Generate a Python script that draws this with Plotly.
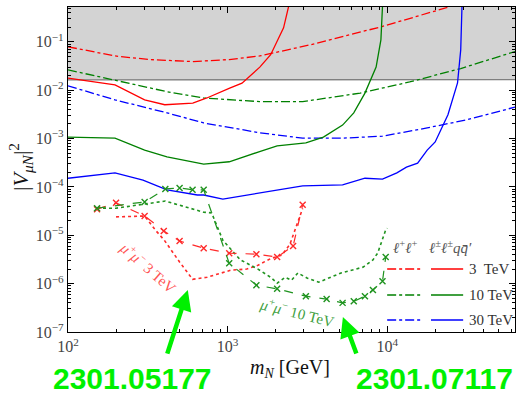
import plotly.graph_objects as go

# ---------------- data ----------------
excl_x = [100, 63096]
excl_y = [0.0163, 0.0165]

# 3 TeV
r_qq_x = [100, 197, 302, 404, 605, 741, 1030, 1230, 1590, 1860, 2240, 2500]
r_qq_y = [0.0178, 0.0129, 0.0063, 0.0050, 0.0054, 0.0069, 0.011, 0.014, 0.030, 0.054, 0.195, 0.9]
r_ll_x = [100, 197, 324, 603, 1023, 1585, 3311, 9120, 24547, 30000]
r_ll_y = [0.079, 0.051, 0.043, 0.039, 0.043, 0.051, 0.087, 0.204, 0.53, 0.7]

# 10 TeV
g_qq_x = [100, 197, 302, 417, 708, 1023, 1585, 2042, 3090, 3981, 5248, 6166, 7244, 8511, 9120, 9333, 9400]
g_qq_y = [1.07e-3, 1.02e-3, 5.75e-4, 4.17e-4, 2.95e-4, 3.31e-4, 5.37e-4, 7.08e-4, 8.13e-4,
          1.07e-3, 1.9e-3, 3.39e-3, 8.7e-3, 0.030, 0.11, 0.46, 0.9]
g_ll_x = [100, 197, 417, 708, 1585, 2951, 6761, 13804, 28840, 63096]
g_ll_y = [0.0263, 0.0162, 0.0093, 0.0069, 0.0058, 0.0058, 0.0087, 0.0148, 0.028, 0.063]

# 30 TeV
b_qq_x = [100, 197, 295, 417, 646, 708, 933, 1585, 2951, 5248, 7244, 9333, 11482, 13183, 15488,
          17783, 19953, 23988, 27542, 28840, 29500]
b_qq_y = [1.51e-4, 1.95e-4, 1.38e-4, 8.7e-5, 6.8e-5, 6.8e-5, 5.6e-5, 7.4e-5, 1.05e-4, 1.1e-4, 1.51e-4,
          1.45e-4, 1.95e-4, 2.57e-4, 3.09e-4, 5.75e-4, 8.5e-4, 3.1e-3, 0.0141, 0.068, 0.9]
b_ll_x = [100, 197, 417, 708, 1585, 2951, 5248, 9333, 17783, 31623, 63096]
b_ll_y = [0.0123, 0.0063, 0.0034, 0.0021, 0.00132, 0.00102, 0.00102, 0.00112, 0.00166, 0.00245, 0.00447]

# mu+ mu- 3 TeV (2301.05177)
mm3_dash_x = [152, 200, 302, 398, 500, 708, 1023, 1514, 2042, 2570, 2951]
mm3_dash_y = [3.47e-5, 4.68e-5, 2.51e-5, 1.23e-5, 7.6e-6, 5.4e-6, 4.27e-6, 4.07e-6, 3.55e-6, 6.0e-6, 4.27e-5]
mm3_dot_x = [200, 302, 355, 400, 500, 603, 741, 1047, 1318, 1549, 1862, 2188, 2455, 2754, 2951]
mm3_dot_y = [2.4e-5, 2.5e-5, 1.25e-5, 8.0e-6, 2.8e-6, 1.23e-6, 1.35e-6, 1.9e-6, 2.0e-6, 2.4e-6, 3.3e-6,
             3.9e-6, 6.5e-6, 1.9e-5, 3.6e-5]

# mu+ mu- 10 TeV (2301.07117)
mm10_dash_x = [152, 302, 407, 500, 603, 708, 1023, 1514, 2042, 3090, 4169, 5248, 6166, 7244, 8128, 9333, 9772]
mm10_dash_y = [3.63e-5, 4.9e-5, 9.1e-5, 9.5e-5, 8.7e-5, 8.7e-5, 2.63e-6, 9.3e-7, 7.8e-7, 5.5e-7, 4.8e-7,
               4.0e-7, 4.3e-7, 5.5e-7, 7.4e-7, 1.12e-6, 3.55e-6]
mm10_dot_x = [152, 200, 407, 708, 794, 933, 1202, 1549, 1862, 2042, 2291, 2512, 2754, 3162, 3715, 5129,
              7079, 8128, 8710, 9333, 9772, 10000]
mm10_dot_y = [3.63e-5, 3.63e-5, 5.1e-5, 3.0e-5, 2.9e-5, 7.9e-6, 3.1e-6, 2.0e-6, 1.35e-6, 1.02e-6, 1.35e-6,
              1.17e-6, 1.66e-6, 1.29e-6, 1.07e-6, 1.66e-6, 2.2e-6, 3.1e-6, 4.3e-6, 7.9e-6, 1.29e-5, 1.4e-5]

x_ticks = [100, 1000, 10000]
x_ticktext = ["10<sup>2</sup>", "10<sup>3</sup>", "10<sup>4</sup>"]
y_ticks = [1e-7, 1e-6, 1e-5, 1e-4, 1e-3, 1e-2, 1e-1]
y_ticktext = ["10<sup>−7</sup>", "10<sup>−6</sup>", "10<sup>−5</sup>", "10<sup>−4</sup>",
              "10<sup>−3</sup>", "10<sup>−2</sup>", "10<sup>−1</sup>"]

legend_labels = ["3  TeV", "10 TeV", "30 TeV"]
legend_colors = ["#ff0000", "#008000", "#0000ff"]

# ---------------- figure ----------------
RED, GREEN, BLUE = "#ff0000", "#008000", "#0000ff"
LRED, LGREEN = "#ff2a2a", "#1f931f"
SERIF = "Liberation Serif"

fig = go.Figure()
fig.add_trace(go.Scatter(x=excl_x + excl_x[::-1], y=excl_y + [1.0, 1.0], fill="toself",
                         fillcolor="#d3d3d3", line=dict(width=0), mode="lines", hoverinfo="skip"))
fig.add_trace(go.Scatter(x=excl_x, y=excl_y, mode="lines", line=dict(color="#7f7f7f", width=1.4)))

def line(x, y, color, dash="solid", width=1.3):
    fig.add_trace(go.Scatter(x=x, y=y, mode="lines", line=dict(color=color, dash=dash, width=width)))

def mline(x, y, color):
    fig.add_trace(go.Scatter(x=x, y=y, mode="lines+markers",
                             line=dict(color=color, dash="dash", width=1.2),
                             marker=dict(symbol="x-thin", size=6, line=dict(width=1.4, color=color))))

line(r_ll_x, r_ll_y, RED, "dashdot")
line(g_ll_x, g_ll_y, GREEN, "dashdot")
line(b_ll_x, b_ll_y, BLUE, "dashdot")
line(r_qq_x, r_qq_y, RED)
line(g_qq_x, g_qq_y, GREEN)
line(b_qq_x, b_qq_y, BLUE)

line(mm3_dot_x, mm3_dot_y, LRED, "dot", 1.6)
line(mm10_dot_x, mm10_dot_y, LGREEN, "dot", 1.6)
mline(mm3_dash_x, mm3_dash_y, LRED)
mline(mm10_dash_x, mm10_dash_y, LGREEN)

minor_x = [m * d for d in (100, 1000, 10000) for m in range(2, 10) if m * d <= 63096]
minor_y = [m * d for d in (1e-7, 1e-6, 1e-5, 1e-4, 1e-3, 1e-2, 1e-1) for m in range(2, 10) if m * d <= 0.52]

axis_common = dict(type="log", showgrid=False, zeroline=False, showline=True, linecolor="black",
                   linewidth=1.2, mirror="allticks", ticks="inside", ticklen=6, tickcolor="black",
                   tickwidth=1, tickmode="array", automargin=False,
                   tickfont=dict(family=SERIF, size=16, color="#444444"))

fig.update_xaxes(range=[2, 4.8], tickvals=x_ticks, ticktext=x_ticktext,
                 minor=dict(tickmode="array", tickvals=minor_x, ticks="inside", ticklen=3,
                            tickcolor="black", showgrid=False), **axis_common)
fig.update_yaxes(range=[-7, -0.28], tickvals=y_ticks, ticktext=y_ticktext,
                 minor=dict(tickmode="array", tickvals=minor_y, ticks="inside", ticklen=3,
                            tickcolor="black", showgrid=False), **axis_common)

shapes = []
annotations = []
rows_y = [0.194, 0.114, 0.037]
for lab, col, yy in zip(legend_labels, legend_colors, rows_y):
    shapes.append(dict(type="line", xref="paper", yref="paper", x0=0.714, x1=0.790, y0=yy, y1=yy,
                       line=dict(color=col, width=1.4, dash="dashdot")))
    shapes.append(dict(type="line", xref="paper", yref="paper", x0=0.812, x1=0.884, y0=yy, y1=yy,
                       line=dict(color=col, width=1.4)))
    annotations.append(dict(text=lab, xref="paper", yref="paper", x=0.893, y=yy, xanchor="left",
                            yanchor="middle", showarrow=False,
                            font=dict(family=SERIF, size=15, color="#333333")))

C = dict(xanchor="center", yanchor="middle", showarrow=False)
annotations += [
    dict(text="<i>ℓ</i><sup>+</sup><i>ℓ</i><sup>+</sup>", xref="paper", yref="paper", x=0.754, y=0.262,
         font=dict(family=SERIF, size=15, color="#555555"), **C),
    dict(text="<i>ℓ</i><sup>±</sup><i>ℓ</i><sup>±</sup><i>qq̄′</i>", xref="paper", yref="paper",
         x=0.856, y=0.262, font=dict(family=SERIF, size=15, color="#555555"), **C),
    dict(text="<i>μ</i><sup>+</sup><i>μ</i><sup>−</sup> 3 TeV", x=2.505, y=-5.66, xref="x", yref="y",
         textangle=41, font=dict(family=SERIF, size=15, color="#ff5555"), **C),
    dict(text="<i>μ</i><sup>+</sup><i>μ</i><sup>−</sup> 10 TeV", x=3.436, y=-6.59, xref="x", yref="y",
         textangle=14, font=dict(family=SERIF, size=15, color="#3f9f3f"), **C),
    dict(text="<i>m</i><sub><i>N</i></sub> [GeV]", xref="paper", yref="paper", x=0.497, y=-0.111,
         font=dict(family=SERIF, size=20, color="#111111"), **C),
    dict(text="|<i>V</i><sub><i>μN</i></sub>|<sup>2</sup>", xref="paper", yref="paper", x=-0.105, y=0.508,
         textangle=-90, font=dict(family=SERIF, size=22, color="#111111"), **C),
    dict(text="", xref="paper", yref="paper", x=0.268, y=0.129, ax=-21, ay=65, showarrow=True,
         arrowhead=2, arrowsize=0.9, arrowwidth=4.5, arrowcolor="#00f000"),
    dict(text="", xref="paper", yref="paper", x=0.615, y=0.046, ax=14, ay=38, showarrow=True,
         arrowhead=2, arrowsize=0.9, arrowwidth=4.5, arrowcolor="#00f000"),
    dict(text="<b>2301.05177</b>", xref="paper", yref="paper", x=0.145, y=-0.143,
         font=dict(family="Liberation Sans", size=30, color="#00f000"), **C),
    dict(text="<b>2301.07117</b>", xref="paper", yref="paper", x=0.821, y=-0.143,
         font=dict(family="Liberation Sans", size=30, color="#00f000"), **C),
]

fig.update_layout(width=519, height=394, margin=dict(l=68, r=4, t=7, b=62, autoexpand=False),
                  paper_bgcolor="white", plot_bgcolor="white", showlegend=False,
                  shapes=shapes, annotations=annotations)

fig.write_html("out.html", config={"displayModeBar": False},
               post_script="document.body.style.margin='0';")
